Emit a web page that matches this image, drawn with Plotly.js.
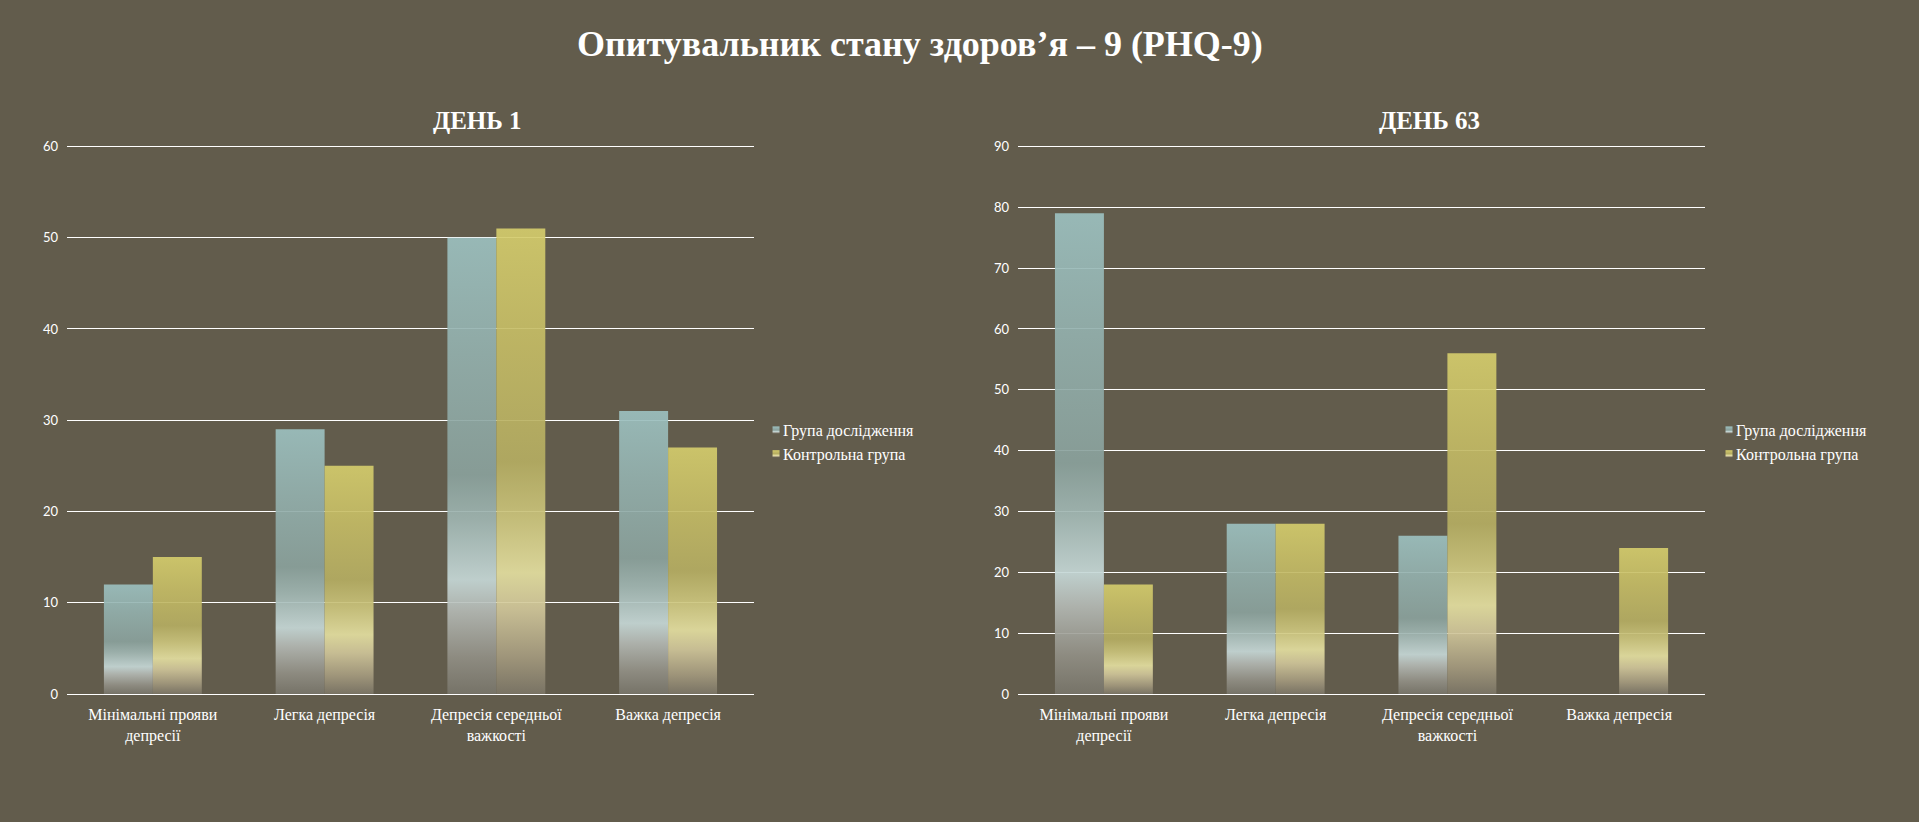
<!DOCTYPE html>
<html>
<head>
<meta charset="utf-8">
<script src="https://cdn.plot.ly/plotly-3.0.1.min.js"></script>
<style>
  html, body { margin: 0; padding: 0; background: #625c4c; }
  #chart { width: 1919px; height: 822px; }
</style>
</head>
<body>
<div id="chart"></div>
<script>
// categories and values
const categories = [
    'Мінімальні прояви<br>депресії',
    'Легка депресія',
    'Депресія середньої<br>важкості',
    'Важка депресія',
];
const seriesNames = ['Група дослідження', 'Контрольна група'];

const day1Study = [12, 29, 50, 31];
const day1Control = [15, 25, 51, 27];
const day63Study = [79, 28, 26, null];
const day63Control = [18, 28, 56, 24];

const mainTitle = 'Опитувальник стану здоров’я – 9 (PHQ-9)';
const panelTitles = ['ДЕНЬ 1', 'ДЕНЬ 63'];

const BG = '#625c4c';
const STUDY_BASE = '#9cc0bf';
const CONTROL_BASE = '#d4cc6c';

// gradient stops, top (0) to bottom (1) of every bar
const GRADIENTS = {
    gradStudy: [
        [0, '#9cc0bf'], [0.25, '#93b0ad'], [0.52, '#8aa19c'], [0.62, '#a0b6b2'],
        [0.75, '#c6d8d7'], [0.82, '#b3b8b3'], [0.92, '#918f85'], [1, '#78756a'],
    ],
    gradControl: [
        [0, '#d4cc6c'], [0.25, '#c4bb65'], [0.5, '#b5ad62'], [0.62, '#cbc47c'],
        [0.74, '#e4dfa0'], [0.82, '#cfc599'], [0.92, '#a49a7e'], [1, '#7b7566'],
    ],
};

const serif = 'Liberation Serif, Times New Roman, serif';
const sans = 'Lato, Open Sans, sans-serif';

function barTrace(name, values, color, xaxis, yaxis, legend) {
    return {
        type: 'bar',
        name: name,
        x: categories,
        y: values,
        xaxis: xaxis,
        yaxis: yaxis,
        legend: legend,
        marker: { color: color, opacity: 0.92, line: { width: 0 } },
        hoverinfo: 'skip',
    };
}

const traces = [
    barTrace(seriesNames[0], day1Study, STUDY_BASE, 'x', 'y', 'legend'),
    barTrace(seriesNames[1], day1Control, CONTROL_BASE, 'x', 'y', 'legend'),
    barTrace(seriesNames[0], day63Study, STUDY_BASE, 'x2', 'y2', 'legend2'),
    barTrace(seriesNames[1], day63Control, CONTROL_BASE, 'x2', 'y2', 'legend2'),
];

const xBase = {
    type: 'category',
    showgrid: false,
    showline: false,
    zeroline: false,
    ticks: '',
    tickfont: { family: serif, size: 16, color: '#ffffff' },
    ticklabelstandoff: 9,
    fixedrange: true,
};

// ranges run a little past the last tick so its gridline is not clipped
const yBase = {
    showgrid: true,
    gridcolor: '#ffffff',
    gridwidth: 1,
    zeroline: true,
    zerolinecolor: '#ffffff',
    zerolinewidth: 1,
    showline: false,
    ticks: '',
    dtick: 10,
    tickfont: { family: sans, size: 13, color: '#ffffff' },
    ticklabelstandoff: 8,
    domain: [0.1557, 0.8274],
    fixedrange: true,
};

const legendBase = {
    orientation: 'v',
    xanchor: 'left',
    yanchor: 'middle',
    y: 0.4623,
    bgcolor: 'rgba(0,0,0,0)',
    font: { family: serif, size: 16, color: '#ffffff' },
    itemwidth: 30,
    tracegroupgap: 0,
};

const layout = {
    width: 1919,
    height: 822,
    autosize: false,
    margin: { l: 0, r: 0, t: 0, b: 0 },
    paper_bgcolor: BG,
    plot_bgcolor: 'rgba(0,0,0,0)',
    barmode: 'group',
    bargap: 0.43,
    bargroupgap: 0,
    title: {
        text: '<b>' + mainTitle + '</b>',
        font: { family: serif, size: 36, color: '#ffffff' },
        x: 0.4794,
        xanchor: 'center',
        y: 0.9477,
        yanchor: 'middle',
    },
    xaxis: { ...xBase, domain: [0.0349, 0.3929], anchor: 'y' },
    yaxis: { ...yBase, range: [0, 60.5], tick0: 0, anchor: 'x' },
    xaxis2: { ...xBase, domain: [0.5305, 0.8885], anchor: 'y2' },
    yaxis2: { ...yBase, range: [0, 90.75], tick0: 0, anchor: 'x2' },
    legend: { ...legendBase, x: 0.3872 },
    legend2: { ...legendBase, x: 0.8838 },
    annotations: [
        {
            text: '<b>' + panelTitles[0] + '</b>',
            xref: 'paper', yref: 'paper',
            x: 0.2486, y: 0.854, xanchor: 'center', yanchor: 'middle',
            showarrow: false,
            font: { family: serif, size: 25, color: '#ffffff' },
        },
        {
            text: '<b>' + panelTitles[1] + '</b>',
            xref: 'paper', yref: 'paper',
            x: 0.7447, y: 0.854, xanchor: 'center', yanchor: 'middle',
            showarrow: false,
            font: { family: serif, size: 25, color: '#ffffff' },
        },
    ],
};

const config = { staticPlot: true, displayModeBar: false, responsive: false };

// plotly has no gradient fill for bars, so swap the flat fill for svg gradients
function applyGradients(gd) {
    const ns = 'http://www.w3.org/2000/svg';
    const svg = gd.querySelector('svg.main-svg');
    let defs = svg.querySelector('defs');
    if (!defs) {
        defs = document.createElementNS(ns, 'defs');
        svg.insertBefore(defs, svg.firstChild);
    }
    for (const id of Object.keys(GRADIENTS)) {
        const grad = document.createElementNS(ns, 'linearGradient');
        grad.setAttribute('id', id);
        grad.setAttribute('x1', '0');
        grad.setAttribute('y1', '0');
        grad.setAttribute('x2', '0');
        grad.setAttribute('y2', '1');
        for (const [offset, color] of GRADIENTS[id]) {
            const stop = document.createElementNS(ns, 'stop');
            stop.setAttribute('offset', offset);
            stop.setAttribute('stop-color', color);
            grad.appendChild(stop);
        }
        defs.appendChild(grad);
    }

    const studyRgb = 'rgb(156, 192, 191)';
    const controlRgb = 'rgb(212, 204, 108)';

    gd.querySelectorAll('path').forEach(p => {
        const fill = p.style.fill;
        if (fill === studyRgb) p.style.fill = 'url(#gradStudy)';
        else if (fill === controlRgb) p.style.fill = 'url(#gradControl)';
    });

    // smaller legend swatches sitting closer to the text (both legends)
    gd.querySelectorAll('.legendpoints path').forEach(p => {
        p.setAttribute('d', 'M3.5,3.5H-3.5V-3.5H3.5Z');
        const t = p.getAttribute('transform') || '';
        p.setAttribute('transform', t + ' translate(13,0)');
    });
}

Plotly.newPlot('chart', traces, layout, config).then(applyGradients);
</script>
</body>
</html>
